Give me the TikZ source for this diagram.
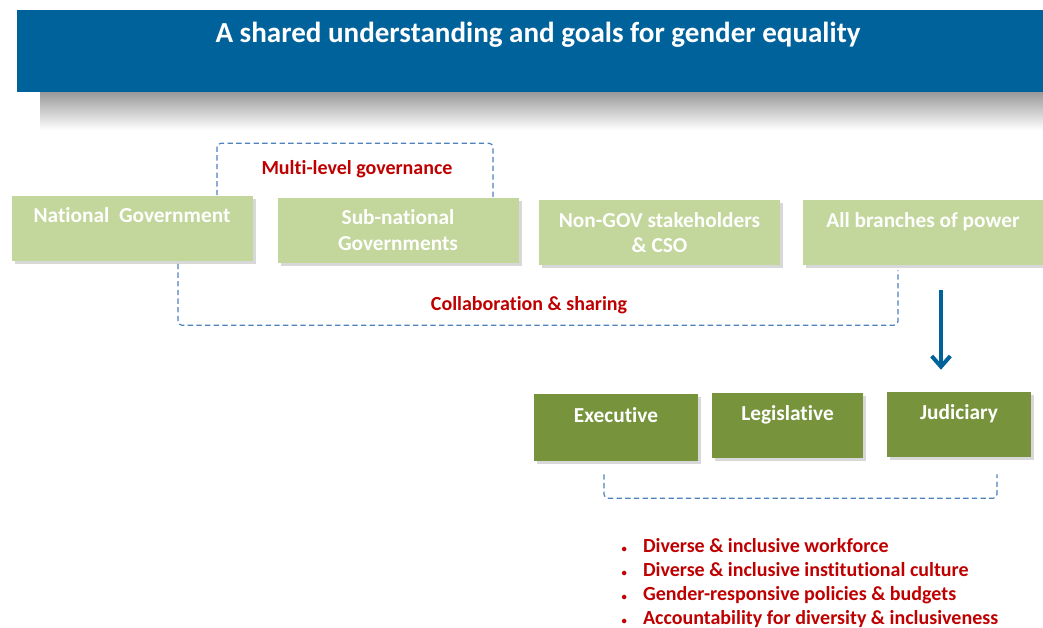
\documentclass[tikz,border=0pt]{standalone}
\usepackage{fontspec}
\setmainfont{Carlito}[Ligatures=NoCommon]
\usetikzlibrary{positioning,calc,shadows,arrows.meta}
\definecolor{bannerblue}{RGB}{0,98,155}
\definecolor{palegreen}{RGB}{195,214,155}
\definecolor{olivegreen}{RGB}{119,147,60}
\definecolor{labelred}{RGB}{192,0,0}
\definecolor{dashblue}{RGB}{79,129,189}
\tikzset{
  govbox/.style={rectangle, fill=palegreen, text=white, align=center, inner sep=2pt,
    font=\bfseries\fontsize{16}{19}\selectfont,
    minimum width=180.75pt, minimum height=48.75pt,
    drop shadow={shadow xshift=2.5pt, shadow yshift=-2.5pt, opacity=.3}},
  branchbox/.style={govbox, fill=olivegreen},
  bracket/.style={draw=dashblue, dash pattern=on 4pt off 2.5pt, line width=.9pt, rounded corners=3pt},
  redlabel/.style={text=labelred, font=\bfseries\fontsize{15}{18}\selectfont}
}
\newcommand{\goalitem}[1]{\makebox[16pt][l]{\footnotesize\textbullet}#1}
\begin{document}
\begin{tikzpicture}[x=0.75pt,y=-0.75pt]
    \useasboundingbox[fill=white] (0,0) rectangle (1043,628);
    % banner and its shadow
    \shade[top color=black!40, bottom color=white] (40,92) rectangle (1043,130);
    \node[fill=bannerblue, anchor=north west, inner sep=0pt,
        minimum width=782pt, minimum height=61.5pt] (banner) at (17,10) {};
    \node[text=white, font=\bfseries\fontsize{21.8}{26}\selectfont] (title) at (538,35)
        {A shared understanding and goals for gender equality};
    % actors
    \node[govbox] (nat) at (132,228) {National\ \ Government\\\mbox{}};
    \node[govbox] (sub) at (398,230) {Sub-national\\Governments};
    \node[govbox] (ngo) at (659.5,232.5) {Non-GOV stakeholders\\\& CSO};
    \node[govbox] (all) at (923,232.5) {All branches of power\\\mbox{}};
    % branches
    \node[branchbox, minimum width=123pt, minimum height=50.25pt] (exe) at (616,427.5) {Executive\\\mbox{}};
    \node[branchbox, minimum width=113.25pt] (leg) at (787.5,425.5) {Legislative\\\mbox{}};
    \node[branchbox, minimum width=108pt] (jud) at (959,424.5) {Judiciary\\\mbox{}};
    % brackets
    \draw[bracket] ($(nat.north)+(85,0)$) |- ($(sub.north)+(95,-54)$) -- ($(sub.north)+(95,0)$);
    \node[redlabel] (mlg) at (357,169) {Multi-level governance};
    \draw[bracket] ($(nat.south)+(46,3)$) |- ($(all.south)+(-25,60)$) -- ($(all.south)+(-25,5)$);
    \node[redlabel] (collab) at (529,305) {Collaboration \& sharing};
    \draw[bannerblue, line width=3pt, -{Straight Barb[length=8pt,width=14pt]}]
        ($(all.south)+(18,25)$) -- ($(jud.north)+(-18,-22)$);
    \draw[bracket] ($(exe.south)+(-12,13)$) |- ($(jud.south)+(38,41)$) -- ($(jud.south)+(38,17)$);
    % goals
    \node[redlabel, align=left, anchor=north west] (goals) at (617,534)
        {\goalitem{Diverse \& inclusive workforce}\\
         \goalitem{Diverse \& inclusive institutional culture}\\
         \goalitem{Gender-responsive policies \& budgets}\\
         \goalitem{Accountability for diversity \& inclusiveness}};
\end{tikzpicture}
\end{document}
